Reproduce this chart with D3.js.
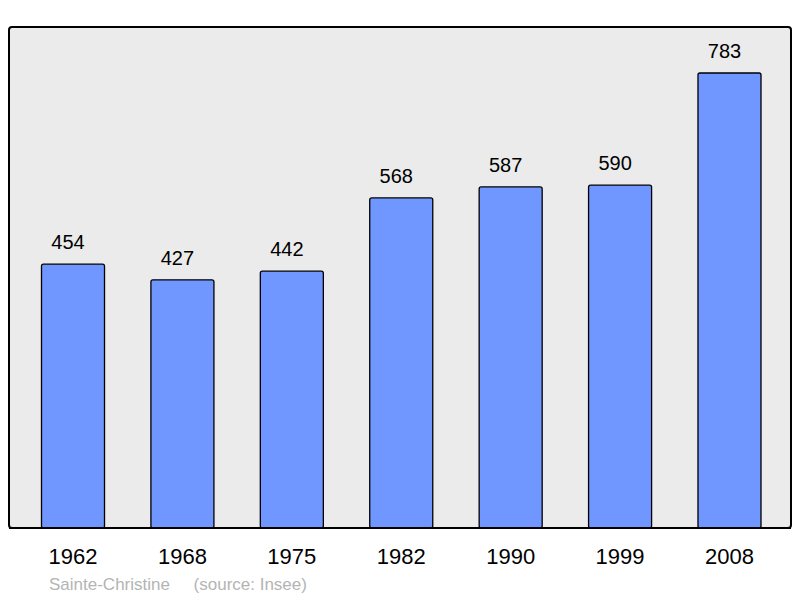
<!DOCTYPE html>
<html><head><meta charset="utf-8">
<script src="https://cdn.jsdelivr.net/npm/d3@7"></script>
<style>body{margin:0;background:#fff}svg{display:block}</style>
</head><body>
<script>
const years = ["1962","1968","1975","1982","1990","1999","2008"];
const population = [454,427,442,568,587,590,783];
const caption = "Sainte-Christine     (source: Insee)";

const W = 800, H = 598;
const svg = d3.select("body").append("svg").attr("width", W).attr("height", H);

svg.append("rect").attr("x", 9).attr("y", 27).attr("width", 782).attr("height", 501)
  .attr("rx", 3).attr("fill", "#ebebeb").attr("stroke", "#000").attr("stroke-width", 2);

const x = d3.scaleBand().domain(years).range([18.3, 784.2]).paddingInner(0.424).paddingOuter(0.212);
const y = d3.scaleLinear().domain([0, 783]).range([528, 73]);

svg.selectAll("rect.bar").data(years).enter().append("rect").attr("class","bar")
  .attr("x", d => x(d)).attr("y", (d,i) => y(population[i]))
  .attr("width", x.bandwidth()).attr("height", (d,i) => y(0) - y(population[i]))
  .attr("rx", 2).attr("fill", "#7096ff").attr("stroke", "#000").attr("stroke-width", 1.3);

svg.append("line").attr("x1", 9).attr("x2", 791).attr("y1", 528).attr("y2", 528)
  .attr("stroke", "#000").attr("stroke-width", 2);

svg.selectAll("text.val").data(years).enter().append("text").attr("class","val")
  .attr("x", d => x(d) + x.bandwidth()/2 - 5).attr("y", (d,i) => y(population[i]) - 15)
  .attr("text-anchor", "middle").attr("font-family", "Liberation Sans, Arial, sans-serif")
  .attr("font-size", 20).attr("fill", "#000").text((d,i) => population[i]);

const xAxis = d3.axisBottom(x).tickSize(0).tickPadding(0);
const ax = svg.append("g").attr("transform", "translate(0,564)").call(xAxis);
ax.select(".domain").remove();
ax.selectAll("text").attr("font-family", "Liberation Sans, Arial, sans-serif")
  .attr("font-size", 22).attr("fill", "#000").attr("dy", "0").attr("y", 0);

svg.append("text").attr("x", 49).attr("y", 590).attr("font-family", "Liberation Sans, Arial, sans-serif")
  .attr("font-size", 17).attr("fill", "#b4b4b4").attr("xml:space", "preserve")
  .style("white-space", "pre").text(caption);
</script>
</body></html>
